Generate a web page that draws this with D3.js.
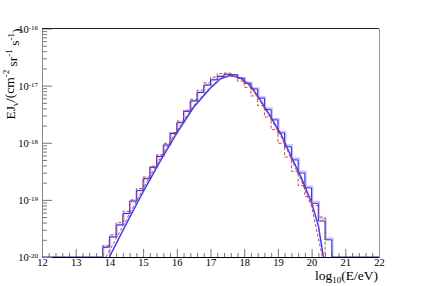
<!DOCTYPE html>
<html>
<head>
<meta charset="utf-8">
<script src="https://cdn.jsdelivr.net/npm/d3@7"></script>
<style>
body { margin: 0; background: #fff; }
svg { display: block; }
text { font-family: "Liberation Serif", "DejaVu Serif", serif; fill: #000; }
</style>
</head>
<body>
<div id="chart"></div>
<script>
// histogram bins: 0.2 wide in log10(E/eV), first bin starts at 13.8
var binStart = 13.8;
var binWidth = 0.2;

// measured spectrum (dark blue histogram)
var dataHist = [1.48e-20, 2.24e-20, 3.63e-20, 5.75e-20, 9.55e-20, 1.45e-19, 2.34e-19, 3.72e-19,
    5.75e-19, 9.12e-19, 1.45e-18, 2.24e-18, 3.55e-18, 5.37e-18, 7.59e-18, 1.02e-17, 1.26e-17,
    1.45e-17, 1.58e-17, 1.55e-17, 1.35e-17, 1.10e-17, 8.71e-18, 6.03e-18, 3.80e-18, 2.51e-18,
    1.48e-18, 8.51e-19, 5.01e-19, 2.95e-19, 1.62e-19, 8.71e-20, 4.27e-20, 2.00e-20];

// second spectrum (light blue histogram)
var lightHist = [1.55e-20, 2.29e-20, 3.72e-20, 5.89e-20, 9.33e-20, 1.48e-19, 2.40e-19, 3.80e-19,
    5.89e-19, 9.33e-19, 1.48e-18, 2.29e-18, 3.63e-18, 5.50e-18, 7.76e-18, 1.05e-17, 1.29e-17,
    1.48e-17, 1.58e-17, 1.55e-17, 1.38e-17, 1.15e-17, 9.12e-18, 6.31e-18, 4.07e-18, 2.63e-18,
    1.58e-18, 9.12e-19, 5.37e-19, 3.16e-19, 1.74e-19, 9.33e-20, 4.68e-20, 2.14e-20];

// simulated spectrum (red dashed histogram)
var simHist = [1.58e-20, 2.45e-20, 3.98e-20, 6.31e-20, 1.00e-19, 1.58e-19, 2.51e-19, 3.89e-19,
    6.17e-19, 9.77e-19, 1.51e-18, 2.40e-18, 3.72e-18, 5.75e-18, 8.32e-18, 1.12e-17, 1.41e-17,
    1.62e-17, 1.66e-17, 1.45e-17, 1.20e-17, 9.33e-18, 6.61e-18, 4.47e-18, 2.82e-18, 1.70e-18,
    9.77e-19, 5.62e-19, 3.16e-19, 1.78e-19, 1.15e-19, 7.94e-20, 5.01e-20];

// smooth model (blue line)
var modelE = [14.0, 14.5, 15.0, 15.5, 16.0, 16.5, 17.0, 17.3, 17.6, 17.9, 18.2, 18.5, 18.8, 19.1, 19.4, 19.7, 20.0, 20.2, 20.35];
var modelFlux = [1.0e-20, 3.80e-20, 1.38e-19, 4.68e-19, 1.48e-18, 4.17e-18, 9.12e-18, 1.32e-17, 1.51e-17,
    1.35e-17, 9.77e-18, 5.37e-18, 2.75e-18, 1.38e-18, 5.62e-19, 2.40e-19, 8.91e-20, 3.55e-20, 1.0e-20];

// smooth simulation (red dashed line)
var simE = [13.9, 14.5, 15.0, 15.5, 16.0, 16.5, 17.0, 17.3, 17.6, 17.9, 18.2, 18.5, 18.8, 19.1, 19.4, 19.7, 20.0, 20.32];
var simFlux = [1.0e-20, 4.47e-20, 1.58e-19, 5.25e-19, 1.62e-18, 4.47e-18, 9.55e-18, 1.35e-17, 1.51e-17,
    1.32e-17, 9.33e-18, 5.01e-18, 2.57e-18, 1.26e-18, 5.13e-19, 2.14e-19, 7.59e-20, 1.0e-20];

var xTicks = [12, 13, 14, 15, 16, 17, 18, 19, 20, 21, 22];
var yTicks = [1e-20, 1e-19, 1e-18, 1e-17, 1e-16];

var svgWidth = 421;
var svgHeight = 286;
var serif = '"Liberation Serif", "DejaVu Serif", serif';

var frame = { left: 42, right: 379, top: 28.5, bottom: 257 };

var svg = d3.select("#chart")
    .append("svg")
    .attr("width", svgWidth)
    .attr("height", svgHeight);

var x = d3.scaleLinear().domain([12, 22]).range([frame.left, frame.right]);
var y = d3.scaleLog().domain([1e-20, 1e-16]).range([frame.bottom, frame.top]).clamp(true);

svg.append("clipPath").attr("id", "plotclip")
    .append("rect")
    .attr("x", frame.left).attr("y", frame.top - 1)
    .attr("width", frame.right - frame.left).attr("height", frame.bottom - frame.top + 1);

// minor ticks
var xMinor = d3.range(120, 221, 2).map(d => d / 10).filter(d => d % 1 !== 0);
var yMinor = [];
[-20, -19, -18, -17].forEach(function (e) {
    for (var m = 2; m <= 9; m++) yMinor.push(m * Math.pow(10, e));
});

svg.append("g")
    .attr("transform", `translate(0, ${frame.bottom})`)
    .call(d3.axisBottom(x).tickValues(xMinor).tickSize(-4).tickFormat(""))
    .call(g => g.select(".domain").remove())
    .selectAll("line").attr("stroke", "#777");

var xAxis = svg.append("g")
    .attr("transform", `translate(0, ${frame.bottom})`)
    .call(d3.axisBottom(x).tickValues(xTicks).tickSize(-8).tickPadding(2).tickSizeOuter(0).tickFormat(d3.format("d")));
xAxis.attr("font-family", serif);
xAxis.select(".domain").attr("stroke", "#000");
xAxis.selectAll(".tick line").attr("stroke", "#777");
xAxis.selectAll("text").attr("font-size", 10.5).style("font-family", serif);

svg.append("g")
    .attr("transform", `translate(${frame.left}, 0)`)
    .call(d3.axisLeft(y).tickValues(yMinor).tickSize(-5).tickFormat(""))
    .call(g => g.select(".domain").remove())
    .selectAll("line").attr("stroke", "#777");

var yAxis = svg.append("g")
    .attr("transform", `translate(${frame.left}, 0)`)
    .call(d3.axisLeft(y).tickValues(yTicks).tickSize(-10).tickPadding(4).tickSizeOuter(0).tickFormat(""));
yAxis.attr("font-family", serif);
yAxis.select(".domain").attr("stroke", "#888");
yAxis.selectAll(".tick line").attr("stroke", "#777");
yAxis.selectAll(".tick text").each(function (d) {
    var t = d3.select(this)
        .attr("font-size", 10.5)
        .style("font-family", serif)
        .attr("dy", "0.35em");
    t.append("tspan").text("10");
    t.append("tspan").attr("font-size", 7).attr("dy", "-0.45em").text(Math.round(Math.log10(d)));
});

// frame top and right
svg.append("line")
    .attr("x1", frame.left).attr("x2", frame.right)
    .attr("y1", frame.top).attr("y2", frame.top)
    .attr("stroke", "#222");
svg.append("line")
    .attr("x1", frame.right + 0.5).attr("x2", frame.right + 0.5)
    .attr("y1", frame.top).attr("y2", frame.bottom)
    .attr("stroke", "#999");

function histPoints(values, fullRange) {
    var pts = [];
    if (fullRange) pts.push([12, 1e-21]);
    pts.push([binStart, 1e-21]);
    values.forEach(function (v, i) {
        pts.push([binStart + i * binWidth, v]);
        pts.push([binStart + (i + 1) * binWidth, v]);
    });
    var end = binStart + values.length * binWidth;
    pts.push([end, 1e-21]);
    if (fullRange) pts.push([22, 1e-21]);
    return pts;
}

var line = d3.line().x(d => x(d[0])).y(d => y(d[1]));

var plot = svg.append("g").attr("clip-path", "url(#plotclip)");

plot.append("path")
    .attr("d", line(histPoints(lightHist, false)))
    .attr("transform", "translate(1, 0)")
    .attr("fill", "none")
    .attr("stroke", "#9a9aff")
    .attr("stroke-opacity", 0.6)
    .attr("stroke-width", 1.5);

plot.append("path")
    .attr("d", line(histPoints(dataHist, true)))
    .attr("fill", "none")
    .attr("stroke", "#2222dd")
    .attr("stroke-width", 1);

plot.append("path")
    .attr("d", line(modelE.map((e, i) => [e, modelFlux[i]])))
    .attr("fill", "none")
    .attr("stroke", "#3c3cff")
    .attr("stroke-width", 1.5);

plot.append("path")
    .attr("d", line(histPoints(simHist, false)))
    .attr("fill", "none")
    .attr("stroke", "#cc4444")
    .attr("stroke-width", 1)
    .attr("stroke-dasharray", "3,2");

plot.append("path")
    .attr("d", line(simE.map((e, i) => [e, simFlux[i]])))
    .attr("fill", "none")
    .attr("stroke", "#cc4444")
    .attr("stroke-width", 1)
    .attr("stroke-dasharray", "3,2");

// axis titles
var yTitle = svg.append("text")
    .attr("transform", "translate(15, 28.5) rotate(-90)")
    .attr("text-anchor", "end")
    .attr("font-size", 13.5);
yTitle.append("tspan").text("EJ");
yTitle.append("tspan").attr("font-size", 9).attr("dy", "0.3em").text("ν");
yTitle.append("tspan").attr("dy", "-0.27em").text("/(cm");
yTitle.append("tspan").attr("font-size", 9).attr("dy", "-0.55em").text("-2");
yTitle.append("tspan").attr("dy", "0.55em").text(" sr");
yTitle.append("tspan").attr("font-size", 9).attr("dy", "-0.55em").text("-1");
yTitle.append("tspan").attr("dy", "0.55em").text(" s");
yTitle.append("tspan").attr("font-size", 9).attr("dy", "-0.55em").text("-1");
yTitle.append("tspan").attr("dy", "0.55em").text(")");

var xTitle = svg.append("text")
    .attr("x", 378)
    .attr("y", 280)
    .attr("text-anchor", "end")
    .attr("font-size", 13.5);
xTitle.append("tspan").text("log");
xTitle.append("tspan").attr("font-size", 9).attr("dy", "0.35em").text("10");
xTitle.append("tspan").attr("dy", "-0.25em").text("(E/eV)");
</script>
</body>
</html>
